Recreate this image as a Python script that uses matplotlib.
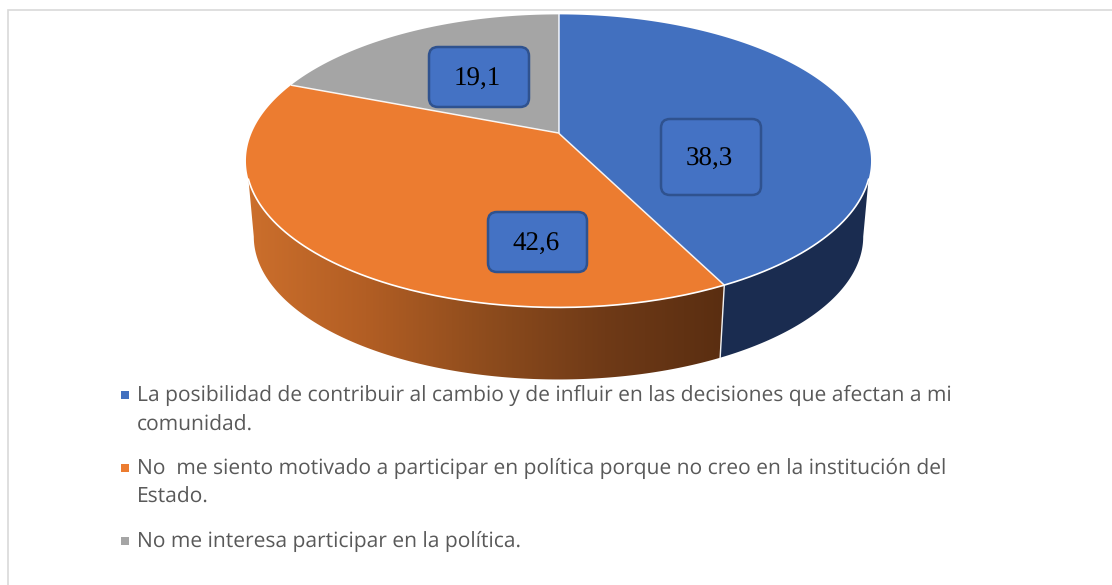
import numpy as np
import matplotlib
matplotlib.use("Agg")
import matplotlib.pyplot as plt
from matplotlib.patches import Polygon, FancyBboxPatch, Rectangle
from matplotlib.colors import LinearSegmentedColormap

# ---- data ----
categories = [
    ["La posibilidad de contribuir al cambio y de influir en las decisiones que afectan a mi", "comunidad."],
    ["No  me siento motivado a participar en política porque no creo en la institución del", "Estado."],
    ["No me interesa participar en la política."],
]
values = [42.6, 38.3, 19.1]
box_labels = ["38,3", "42,6", "19,1"]   # as printed on the slices in the source

colors = ["#4270BF", "#EC7C30", "#A5A5A5"]
wall_blue = "#1A2C50"
TEXT = "#595959"

plt.rcParams["text.hinting"] = "no_hinting"
plt.rcParams["text.hinting_factor"] = 1

W, H = 1112, 585
fig = plt.figure(figsize=(W / 100, H / 100), dpi=100)
ax = fig.add_axes([0, 0, 1, 1])
ax.set_xlim(0, W)
ax.set_ylim(H, 0)
ax.axis("off")

# chart frame
ax.add_patch(Rectangle((8, 10), W, H, fc="white", ec="#D9D9D9", lw=1.2, zorder=0))

# perspective projection of the pie disc
CX, CY, A, B, K = 558.5, 133.0, 306.8, 141.2, 0.1905
DEPTH, SHRINK = 76.4, 0.975


def project(theta_deg, r=1.0, lower=False):
    t = np.radians(theta_deg)
    u, v = r * np.cos(t), r * np.sin(t)
    w = 1 + K * v
    x, y = A * u / w, -B * v / w
    if lower:
        return CX + SHRINK * x, CY + DEPTH + SHRINK * y
    return CX + x, CY + y


# slice boundaries, clockwise from 12 o'clock
spans = np.array(values) / sum(values) * 360
edges = 90 - np.concatenate([[0], np.cumsum(spans)])


def arc(a, b, lower=False):
    x, y = project(np.linspace(a, b, 200), lower=lower)
    return np.column_stack([x, y])


# side wall: the visible front part
junction = edges[1] % 360
left_top, right_top = 198.0, 342.0
left_low, right_low = 191.0, 349.0
wall_orange = np.vstack([arc(left_top, junction), arc(junction, left_low, lower=True)])
wall_b = np.vstack([arc(junction, right_top), arc(right_low, junction, lower=True)])

ax.add_patch(Polygon(wall_b, fc=wall_blue, ec="none", zorder=1))

grad = LinearSegmentedColormap.from_list(
    "wall", ["#CC6F2C", "#B25E24", "#8E4C1D", "#6F3A17", "#5A2E11"])
img = ax.imshow(np.linspace(0, 1, 256)[None, :], cmap=grad, aspect="auto",
                extent=(246, 725, 390, 170), zorder=1)
clip = Polygon(wall_orange, transform=ax.transData, fc="none", ec="none")
ax.add_patch(clip)
img.set_clip_path(clip)
ax.set_xlim(0, W)
ax.set_ylim(H, 0)

# divider on the wall
jx, jy = project(junction)
jx2, jy2 = project(junction, lower=True)
ax.plot([jx, jx2], [jy, jy2], color="#F2F2F2", lw=1.0, zorder=2)

# top surface
for i, c in enumerate(colors):
    pts = np.vstack([[CX, CY], arc(edges[i], edges[i + 1])])
    ax.add_patch(Polygon(pts, closed=True, fc=c, ec="none", zorder=3))
for e in edges[:3]:
    x, y = project(e)
    ax.plot([CX, x], [CY, y], color="white", lw=1.1, alpha=0.9, zorder=4, solid_capstyle="butt")
front = arc(left_top, right_top)
ax.plot(front[:, 0], front[:, 1], color="white", lw=1.2, zorder=4)

# value boxes
box_geom = [(661, 119, 100, 76), (488, 212, 99, 60), (429, 47, 100, 60)]
for (x, y, w, h), s in zip(box_geom, box_labels):
    ax.add_patch(FancyBboxPatch((x + 8, y + 8), w - 16, h - 16,
                                boxstyle="round,pad=8,rounding_size=9",
                                fc="#4472C4", ec="#2F528F", lw=1.8, zorder=5))
    ax.text(x + w / 2 - 1.5, y + h / 2 + 2, s, ha="center", va="center",
            family="Liberation Serif", fontsize=19.3, color="black", zorder=6)

# legend
line_y = [[394, 424], [467, 496], [540]]
for lines, ys, c in zip(categories, line_y, colors):
    ax.add_patch(Rectangle((121, ys[0] - 3.5), 8, 8, fc=c, ec="none", zorder=5))
    for s, y in zip(lines, ys):
        ax.text(137, y + 1, s, ha="left", va="center", family="Open Sans",
                fontsize=14.82, color=TEXT, zorder=5)

fig.savefig("out.png", dpi=100)
